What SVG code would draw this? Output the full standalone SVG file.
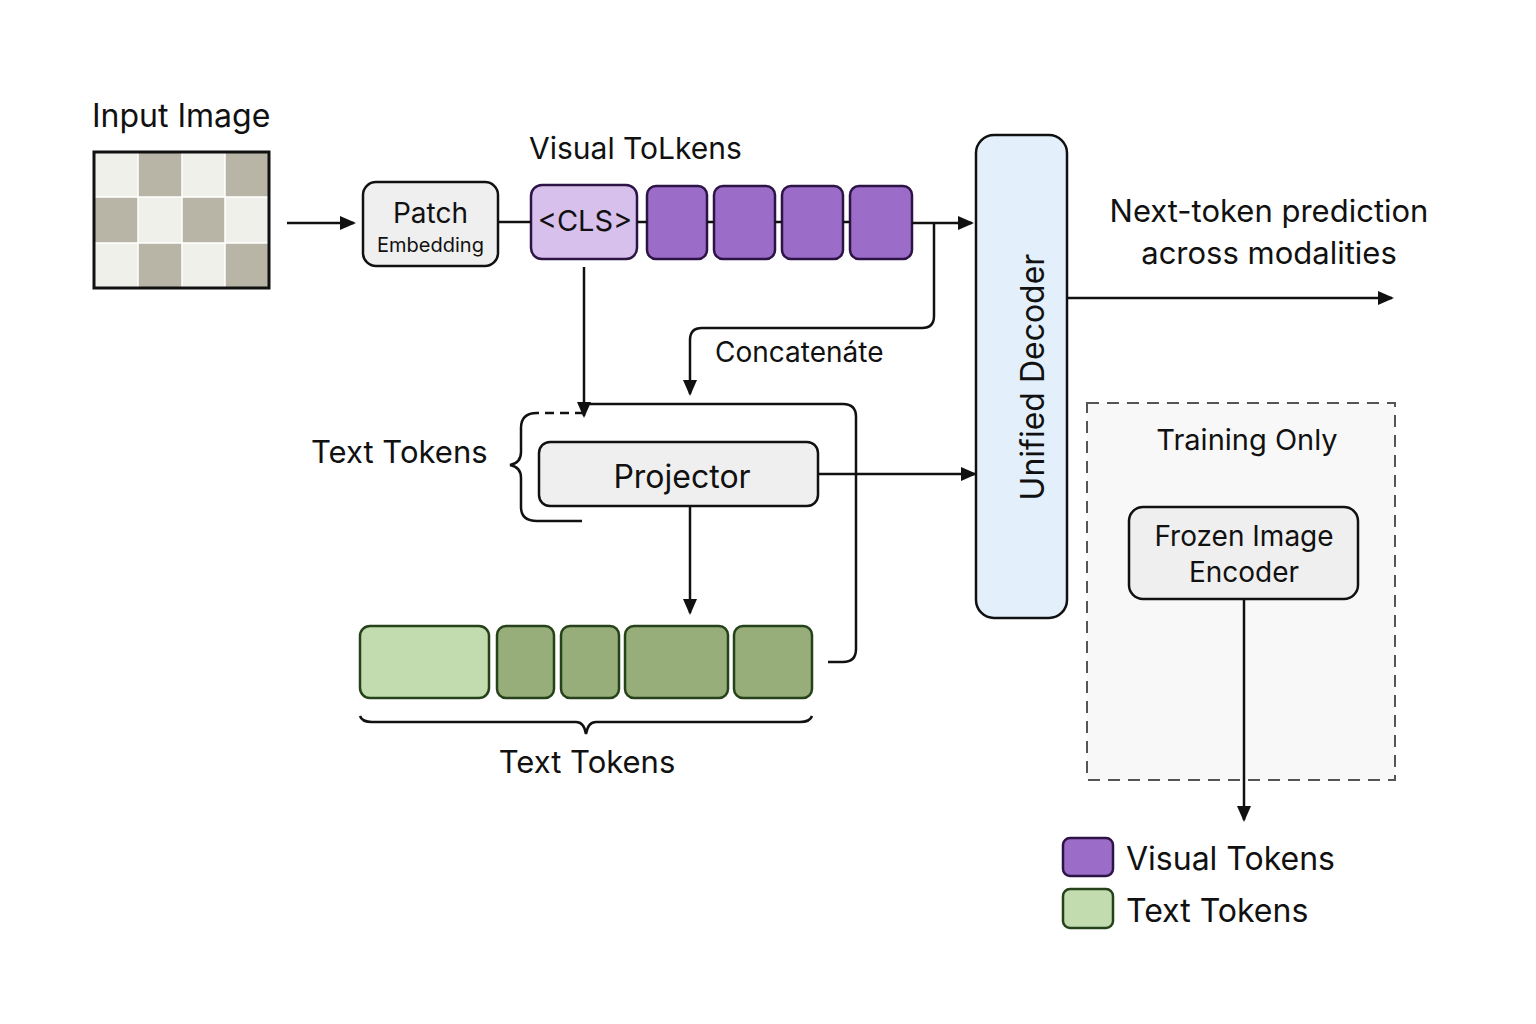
<svg xmlns="http://www.w3.org/2000/svg" width="1536" height="1024" viewBox="0 0 1536 1024">
<defs>
<marker id="ah" markerWidth="16" markerHeight="14" refX="14" refY="7" orient="auto" markerUnits="userSpaceOnUse">
<path d="M0,0 L16,7 L0,14 Z" fill="#111"/>
</marker>
<style>
text{font-family:Inter,"Noto Sans","Liberation Sans",sans-serif;fill:#111}
.ln{fill:none;stroke:#111;stroke-width:2.5}
.box{fill:#efefef;stroke:#111;stroke-width:2.5}
.vis{fill:#9b6cc8;stroke:#2e1446;stroke-width:2.5}
.cls{fill:#d8c0ec;stroke:#2e1446;stroke-width:2.5}
.txt{fill:#97ae7a;stroke:#25421a;stroke-width:2.5}
.txtl{fill:#c2dcb0;stroke:#25421a;stroke-width:2.5}
.dk{fill:#b8b4a6}
</style>
</defs>
<rect width="1536" height="1024" fill="#fff"/>

<g id="input-image">
<text x="92" y="127" font-size="32">Input Image</text>
<rect x="94" y="152" width="175" height="136" fill="#f0f0ea"/>
<rect class="dk" x="138" y="152" width="44" height="45"/>
<rect class="dk" x="225" y="152" width="44" height="45"/>
<rect class="dk" x="94" y="197" width="44" height="46"/>
<rect class="dk" x="182" y="197" width="43" height="46"/>
<rect class="dk" x="138" y="243" width="44" height="45"/>
<rect class="dk" x="225" y="243" width="44" height="45"/>
<path d="M138,152V288M182,152V288M225,152V288M94,197H269M94,243H269" stroke="#fff" stroke-width="1.5"/>
<rect x="94" y="152" width="175" height="136" fill="none" stroke="#111" stroke-width="3"/>
</g>

<g id="patch-embedding">
<rect class="box" x="363" y="182" width="135" height="84" rx="13"/>
<text x="430.5" y="223" font-size="28" text-anchor="middle">Patch</text>
<text x="430.5" y="252" font-size="20" text-anchor="middle">Embedding</text>
</g>

<g id="visual-tokens">
<text x="529" y="159" font-size="30">Visual ToLkens</text>
<rect class="cls" x="531" y="185" width="106" height="74" rx="11"/>
<text x="585" y="231" font-size="29" text-anchor="middle">&lt;CLS&gt;</text>
<rect class="vis" x="647" y="186" width="60" height="73" rx="9"/>
<rect class="vis" x="714" y="186" width="61" height="73" rx="9"/>
<rect class="vis" x="782" y="186" width="61" height="73" rx="9"/>
<rect class="vis" x="850" y="186" width="62" height="73" rx="9"/>
</g>

<g id="unified-decoder">
<rect x="976" y="135" width="91" height="483" rx="18" fill="#e3f0fb" stroke="#111" stroke-width="2.5"/>
<text x="0" y="0" font-size="32" text-anchor="middle" transform="translate(1044,377) rotate(-90)">Unified Decoder</text>
</g>

<g id="output-label">
<text x="1269" y="222" font-size="31" text-anchor="middle">Next-token prediction</text>
<text x="1269" y="264" font-size="31" text-anchor="middle">across modalities</text>
</g>

<g id="projector">
<rect class="box" x="539" y="442" width="279" height="64" rx="11"/>
<text x="682" y="488" font-size="32" text-anchor="middle">Projector</text>
</g>

<g id="text-tokens-label">
<text x="311" y="463" font-size="31">Text Tokens</text>
<path class="ln" d="M584,413 H537" stroke-dasharray="9,6"/>
<path class="ln" d="M537,413 Q521,413 521,428 V452 Q521,463 510,465 Q521,467 521,478 V507 Q521,521 537,521 H582"/>
</g>

<g id="text-tokens">
<rect class="txtl" x="360" y="626" width="129" height="72" rx="10"/>
<rect class="txt" x="497" y="626" width="57" height="72" rx="9"/>
<rect class="txt" x="561" y="626" width="58" height="72" rx="9"/>
<rect class="txt" x="625" y="626" width="103" height="72" rx="9"/>
<rect class="txt" x="734" y="626" width="78" height="72" rx="9"/>
<path class="ln" d="M360,716 Q362,722 372,722 H576 Q584,722 586,734 Q588,722 596,722 H800 Q810,722 812,716"/>
<text x="587" y="773" font-size="31" text-anchor="middle">Text Tokens</text>
</g>

<g id="training-only">
<rect x="1087" y="403" width="308" height="377" fill="#f8f8f8" stroke="#555" stroke-width="2" stroke-dasharray="12,8"/>
<text x="1247" y="450" font-size="29" text-anchor="middle">Training Only</text>
</g>

<g id="frozen-image-encoder">
<rect class="box" x="1129" y="507" width="229" height="92" rx="14"/>
<text x="1244" y="546" font-size="28" text-anchor="middle">Frozen Image</text>
<text x="1244" y="582" font-size="28" text-anchor="middle">Encoder</text>
</g>

<g id="legend">
<rect class="vis" x="1063" y="838" width="50" height="38" rx="7"/>
<text x="1126" y="870" font-size="32">Visual Tokens</text>
<rect class="txtl" x="1063" y="889" width="50" height="39" rx="7"/>
<text x="1126" y="922" font-size="32">Text Tokens</text>
</g>

<g id="connectors">
<path class="ln" d="M287,223 H354" marker-end="url(#ah)"/>
<path class="ln" d="M498,222 H531"/>
<path class="ln" d="M637,222 H647 M707,222 H714 M775,222 H782 M843,222 H850"/>
<path class="ln" d="M912,223 H972" marker-end="url(#ah)"/>
<path class="ln" d="M934,223 V316 Q934,328 922,328 H702 Q690,328 690,340 V394" marker-end="url(#ah)"/>
<text x="715" y="362" font-size="28">Concatenáte</text>
<path class="ln" d="M584,267 V416" marker-end="url(#ah)"/>
<path class="ln" d="M584,404 H843 Q856,404 856,417 V649 Q856,662 843,662 H828"/>
<path class="ln" d="M818,474 H975" marker-end="url(#ah)"/>
<path class="ln" d="M690,506 V613" marker-end="url(#ah)"/>
<path class="ln" d="M1067,298 H1392" marker-end="url(#ah)"/>
<path class="ln" d="M1244,599 V820" marker-end="url(#ah)"/>
</g>
</svg>
